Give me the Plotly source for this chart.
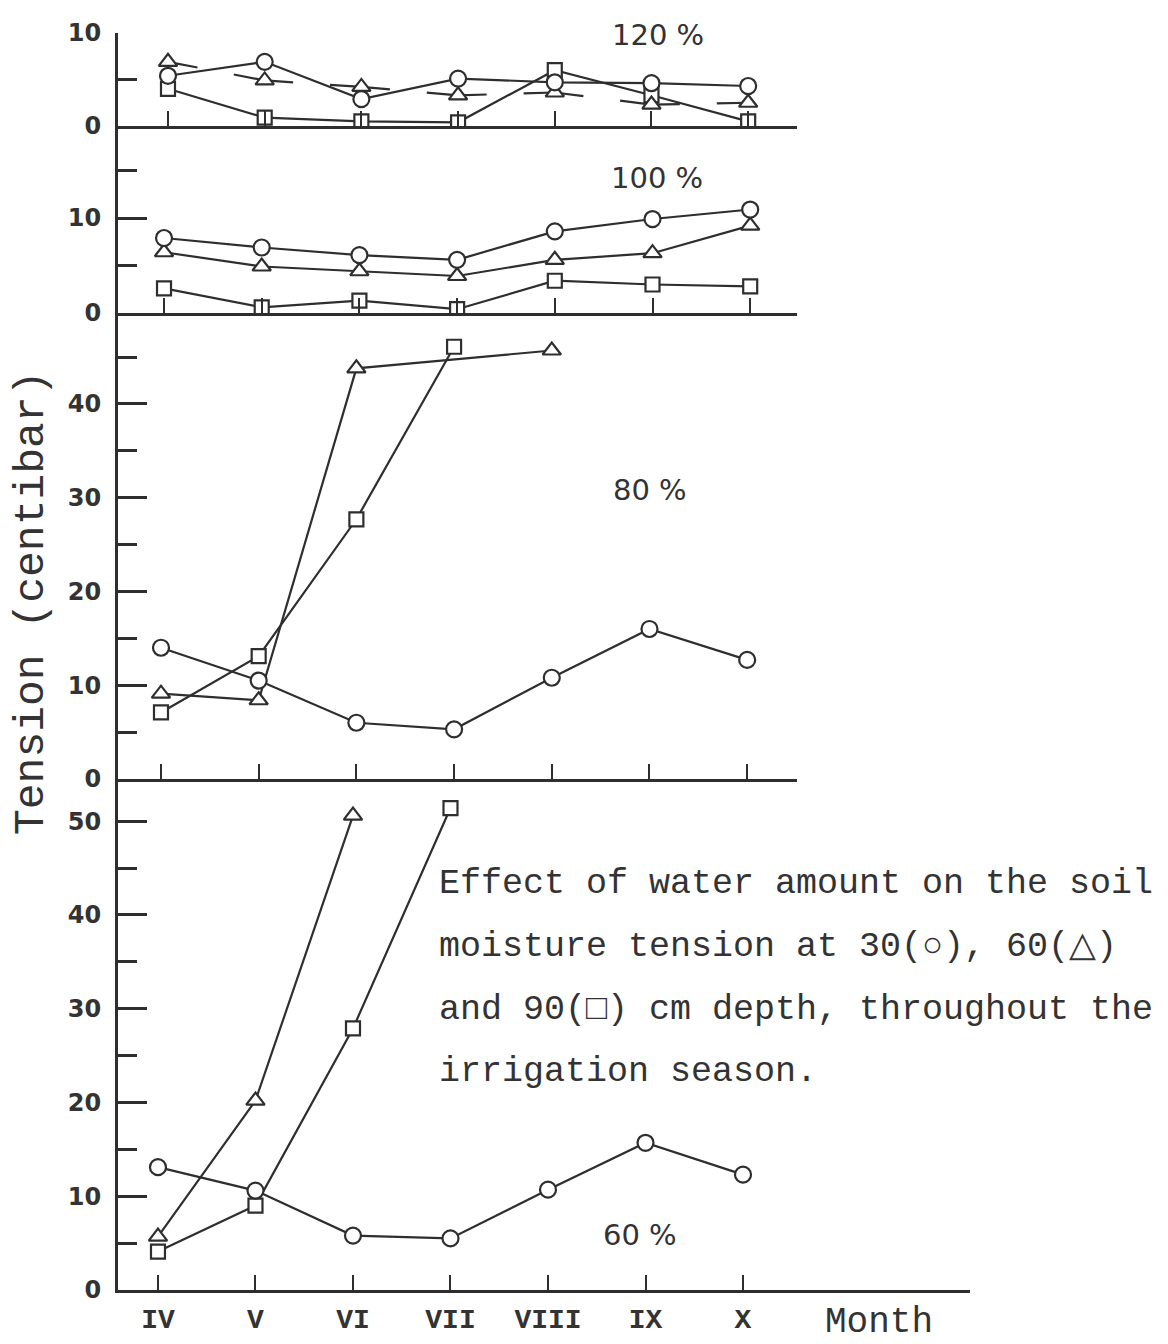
import plotly.graph_objects as go

W, H = 1168, 1344
months = ["IV", "V", "VI", "VII", "VIII", "IX", "X"]
xi = list(range(len(months)))

# 120 % panel
p120_circle = [5.4, 6.9, 2.9, 5.1, 4.7, 4.6, 4.3]
p120_triangle = [6.9, 4.9, 4.2, 3.3, 3.6, 2.3, 2.5]
p120_square = [4.0, 0.9, 0.5, 0.4, 6.0, 3.3, 0.5]
# 100 % panel
p100_circle = [7.9, 6.9, 6.1, 5.6, 8.6, 9.9, 10.9]
p100_triangle = [6.4, 4.9, 4.4, 3.9, 5.6, 6.3, 9.2]
p100_square = [2.6, 0.6, 1.3, 0.4, 3.4, 3.0, 2.8]
# 80 % panel
p80_circle = [14.0, 10.5, 6.0, 5.3, 10.8, 16.0, 12.7]
p80_triangle = [9.1, 8.4, 43.8, None, 45.7, None, None]
p80_square = [7.1, 13.1, 27.7, 46.1, None, None, None]
# 60 % panel
p60_circle = [13.1, 10.6, 5.8, 5.5, 10.7, 15.7, 12.3]
p60_triangle = [5.7, 20.2, 50.6, None, None, None, None]
p60_square = [4.1, 9.0, 27.9, 51.4, None, None, None]

panel_labels = ["120 %", "100 %", "80 %", "60 %"]
caption = ["Effect of water amount on the soil",
           "moisture tension at 30(○), 60(△)",
           "and 90(□) cm depth, throughout the",
           "irrigation season."]

INK = "#2e2e2e"

def py(px):
    return 1 - px / H

def pxx(px):
    return px / W

fig = go.Figure()

panels = [
    (p120_circle, p120_triangle, p120_square),
    (p100_circle, p100_triangle, p100_square),
    (p80_circle, p80_triangle, p80_square),
    (p60_circle, p60_triangle, p60_square),
]

tri_dash = "30px,37px,60px,37px,60px,37px,60px,37px,60px,37px,60px,37px,60px"

for k, (c, t, s) in enumerate(panels):
    ax = "" if k == 0 else str(k + 1)
    for vals, sym, dash in ((s, "square", "solid"), (t, "triangle-up", tri_dash if k == 0 else "solid"), (c, "circle", "solid")):
        fig.add_trace(go.Scatter(
            x=xi, y=vals, xaxis="x" + ax, yaxis="y" + ax,
            mode="lines+markers", connectgaps=True,
            line=dict(color=INK, width=2.2, dash=dash),
            marker=dict(symbol=sym, size=16 if sym != "square" else 14, color="white",
                        line=dict(color=INK, width=2.2)),
            showlegend=False, hoverinfo="skip"))

# layout geometry (pixels): [y_bottom, y_top, ymax, x_right, xr0, xr1, tickvals, minor]
geo = [
    (126, 33, 10.0, 797, -0.517, 6.505, [0, 10], [5]),
    (313, 126, 19.7, 797, -0.471, 6.479, [0, 10], [5, 15]),
    (779, 313, 49.7, 797, -0.440, 6.510, [0, 10, 20, 30, 40], [5, 15, 25, 35, 45]),
    (1290, 779, 54.5, 970, -0.410, 8.328, [0, 10, 20, 30, 40, 50], [5, 15, 25, 35, 45]),
]

tickfont = dict(family="DejaVu Sans", size=24, color="#333", weight="bold")
layout = {}
for k, (yb, yt, ymax, xr, r0, r1, tv, mv) in enumerate(geo):
    ax = "" if k == 0 else str(k + 1)
    layout["xaxis" + ax] = dict(
        domain=[pxx(118), pxx(xr)], range=[r0, r1], anchor="y" + ax,
        automargin=False,
        showline=True, linecolor=INK, linewidth=3, showgrid=False, zeroline=False,
        ticks="inside", ticklen=15, tickwidth=2, tickcolor=INK,
        tickvals=xi, ticktext=months, showticklabels=(k == 3),
        tickfont=dict(family="Liberation Mono", size=28, color="#333", weight="bold"),
        ticklabelstandoff=1, fixedrange=True)
    layout["yaxis" + ax] = dict(
        domain=[py(yb), py(yt)], range=[0, ymax], anchor="x" + ax,
        automargin=False,
        showline=True, linecolor=INK, linewidth=3, showgrid=False, zeroline=False,
        ticks="inside", ticklen=29, tickwidth=3, tickcolor=INK,
        tickvals=tv, ticktext=[str(v) for v in tv], tickfont=tickfont,
        ticklabelstandoff=9,
        minor=dict(tickvals=mv, ticks="inside", ticklen=19, tickwidth=3, tickcolor=INK),
        fixedrange=True)

annotations = []
label_pos = [(658, 35), (657, 178), (650, 490), (640, 1235)]
for lab, (lx, ly) in zip(panel_labels, label_pos):
    annotations.append(dict(text=lab, x=pxx(lx), y=py(ly), xref="paper", yref="paper",
                            showarrow=False, xanchor="center", yanchor="middle",
                            font=dict(family="DejaVu Sans", size=29, color="#333")))
cap_y = [884, 947, 1010, 1072]
for line, cy in zip(caption, cap_y):
    annotations.append(dict(text=line, x=pxx(437), y=py(cy), xref="paper", yref="paper",
                            showarrow=False, xanchor="left", yanchor="middle",
                            font=dict(family="Liberation Mono", size=35, color="#333")))
annotations.append(dict(text="Month", x=pxx(879), y=py(1322), xref="paper", yref="paper",
                        showarrow=False, xanchor="center", yanchor="middle",
                        font=dict(family="Liberation Mono", size=36, color="#333")))
annotations.append(dict(text="Tension (centibar)", x=pxx(31), y=py(603), xref="paper", yref="paper",
                        showarrow=False, xanchor="center", yanchor="middle", textangle=-90,
                        font=dict(family="Liberation Mono", size=43, color="#333")))

fig.update_layout(
    width=W, height=H, margin=dict(l=0, r=0, t=0, b=0),
    paper_bgcolor="white", plot_bgcolor="rgba(0,0,0,0)",
    showlegend=False, hovermode=False, annotations=annotations, **layout)

fig.write_html("out.html", config={"displayModeBar": False})
